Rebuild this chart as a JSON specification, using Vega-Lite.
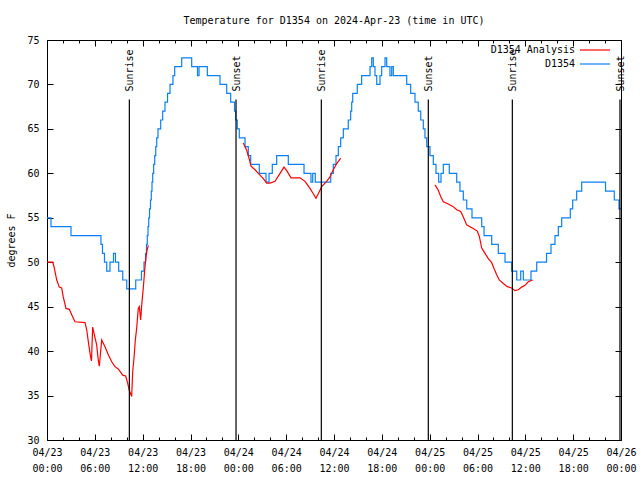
{
  "$schema": "https://vega.github.io/schema/vega-lite/v6.json",
  "width": 574,
  "height": 400,
  "autosize": "none",
  "padding": {"left": 47, "top": 40, "right": 19, "bottom": 40},
  "background": "white",
  "title": {"text": "Temperature for D1354 on 2024-Apr-23 (time in UTC)", "font": "DejaVu Sans Mono", "fontSize": 10, "fontWeight": "normal", "color": "black", "anchor": "middle", "offset": 9},
  "config": {
    "view": {"stroke": "black", "strokeWidth": 1},
    "font": "DejaVu Sans Mono",
    "axis": {"grid": false, "domain": false, "labelFont": "DejaVu Sans Mono", "labelFontSize": 10, "labelColor": "black", "tickColor": "black", "tickWidth": 1, "titleFont": "DejaVu Sans Mono", "titleFontSize": 10, "titleFontWeight": "normal", "titleColor": "black"},
    "legend": {"orient": "none", "legendX": 542, "legendY": 4, "padding": 0, "symbolType": "M-3,0H3", "symbolSize": 100, "symbolStrokeWidth": 1.2, "labelAlign": "right", "labelOffset": -26, "labelFont": "DejaVu Sans Mono", "labelFontSize": 10, "labelColor": "black", "rowPadding": 3, "title": null}
  },
  "datasets": {
    "obs": [
      {"h":0,"t":55},{"h":0.5,"t":54},{"h":3.01,"t":53},{"h":6.77,"t":52},{"h":6.96,"t":51},{"h":7.21,"t":50},{"h":7.49,"t":49},{"h":7.9,"t":50},{"h":8.34,"t":51},{"h":8.59,"t":50},{"h":8.99,"t":49},{"h":9.5,"t":48},{"h":10.0,"t":47},{"h":11.13,"t":48},{"h":11.85,"t":49},{"h":12.17,"t":50},{"h":12.36,"t":51},{"h":12.48,"t":52},{"h":12.58,"t":53},{"h":12.67,"t":54},{"h":12.76,"t":55},{"h":12.86,"t":56},{"h":12.98,"t":57},{"h":13.08,"t":58},{"h":13.17,"t":59},{"h":13.26,"t":60},{"h":13.38,"t":61},{"h":13.51,"t":62},{"h":13.64,"t":63},{"h":13.76,"t":64},{"h":13.92,"t":65},{"h":14.26,"t":66},{"h":14.51,"t":67},{"h":14.8,"t":68},{"h":15.12,"t":69},{"h":15.43,"t":70},{"h":15.8,"t":71},{"h":16.02,"t":72},{"h":16.9,"t":73},{"h":18.15,"t":72},{"h":18.88,"t":71},{"h":19.07,"t":72},{"h":20.11,"t":71},{"h":21.7,"t":70},{"h":22.54,"t":69},{"h":23.04,"t":68},{"h":23.52,"t":67},{"h":23.67,"t":66},{"h":23.87,"t":65},{"h":24.12,"t":64},{"h":24.84,"t":63},{"h":25.25,"t":62},{"h":25.55,"t":61},{"h":26.63,"t":60},{"h":27.47,"t":59},{"h":27.85,"t":60},{"h":28.26,"t":61},{"h":28.81,"t":62},{"h":30.27,"t":61},{"h":32.24,"t":60},{"h":33.11,"t":59},{"h":33.33,"t":60},{"h":33.65,"t":59},{"h":35.59,"t":60},{"h":35.91,"t":61},{"h":36.25,"t":62},{"h":36.54,"t":63},{"h":36.84,"t":64},{"h":37.17,"t":65},{"h":37.79,"t":66},{"h":38.09,"t":67},{"h":38.22,"t":68},{"h":38.35,"t":69},{"h":38.92,"t":70},{"h":39.47,"t":71},{"h":40.52,"t":72},{"h":40.73,"t":73},{"h":40.93,"t":72},{"h":41.14,"t":71},{"h":41.36,"t":70},{"h":41.77,"t":71},{"h":41.98,"t":72},{"h":42.4,"t":73},{"h":42.61,"t":72},{"h":43.02,"t":71},{"h":43.24,"t":72},{"h":43.44,"t":71},{"h":45.12,"t":70},{"h":45.62,"t":69},{"h":46.16,"t":68},{"h":46.57,"t":67},{"h":46.88,"t":66},{"h":47.2,"t":65},{"h":47.41,"t":64},{"h":47.63,"t":63},{"h":48.04,"t":62},{"h":48.46,"t":61},{"h":48.79,"t":60},{"h":49.13,"t":59},{"h":49.42,"t":60},{"h":49.71,"t":61},{"h":50.46,"t":60},{"h":51.39,"t":59},{"h":51.8,"t":58},{"h":52.22,"t":57},{"h":52.65,"t":56},{"h":53.31,"t":55},{"h":54.53,"t":54},{"h":54.82,"t":53},{"h":55.78,"t":52},{"h":56.61,"t":51},{"h":57.45,"t":50},{"h":58.29,"t":49},{"h":58.92,"t":48},{"h":59.42,"t":49},{"h":59.75,"t":48},{"h":60.71,"t":49},{"h":61.43,"t":50},{"h":62.66,"t":51},{"h":63.22,"t":52},{"h":63.72,"t":53},{"h":64.14,"t":54},{"h":64.56,"t":55},{"h":65.64,"t":56},{"h":65.94,"t":57},{"h":66.44,"t":58},{"h":67.07,"t":59},{"h":70.06,"t":58},{"h":71.16,"t":57},{"h":71.75,"t":56},{"h":72.0,"t":56}
    ],
    "ana": [
      {"h":0,"t":50,"seg":1},{"h":0.72,"t":50,"seg":1},{"h":0.88,"t":49.5,"seg":1},{"h":1.22,"t":48,"seg":1},{"h":1.54,"t":47.2,"seg":1},{"h":1.84,"t":47.1,"seg":1},{"h":2.04,"t":46.1,"seg":1},{"h":2.38,"t":44.8,"seg":1},{"h":2.8,"t":44.7,"seg":1},{"h":3.1,"t":44.1,"seg":1},{"h":3.51,"t":43.3,"seg":1},{"h":4.77,"t":43.2,"seg":1},{"h":4.98,"t":42.4,"seg":1},{"h":5.27,"t":40.5,"seg":1},{"h":5.48,"t":39.3,"seg":1},{"h":5.58,"t":38.9,"seg":1},{"h":5.73,"t":42.7,"seg":1},{"h":5.9,"t":42.0,"seg":1},{"h":6.23,"t":40.7,"seg":1},{"h":6.43,"t":39.0,"seg":1},{"h":6.56,"t":38.3,"seg":1},{"h":6.86,"t":41.25,"seg":1},{"h":7.28,"t":40.5,"seg":1},{"h":7.69,"t":39.6,"seg":1},{"h":8.12,"t":38.8,"seg":1},{"h":8.53,"t":38.25,"seg":1},{"h":8.94,"t":38.0,"seg":1},{"h":9.5,"t":37.3,"seg":1},{"h":9.87,"t":37.2,"seg":1},{"h":10.12,"t":36.4,"seg":1},{"h":10.32,"t":35.6,"seg":1},{"h":10.62,"t":34.9,"seg":1},{"h":10.75,"t":37.7,"seg":1},{"h":10.91,"t":39.2,"seg":1},{"h":11.08,"t":41.25,"seg":1},{"h":11.25,"t":42.6,"seg":1},{"h":11.45,"t":44.8,"seg":1},{"h":11.58,"t":45.0,"seg":1},{"h":11.75,"t":43.5,"seg":1},{"h":11.88,"t":45.2,"seg":1},{"h":12.08,"t":47.1,"seg":1},{"h":12.29,"t":49.5,"seg":1},{"h":12.51,"t":51.2,"seg":1},{"h":12.71,"t":51.9,"seg":1},
      {"h":24.62,"t":63.4,"seg":2},{"h":25.05,"t":62.6,"seg":2},{"h":25.34,"t":61.7,"seg":2},{"h":25.59,"t":60.8,"seg":2},{"h":26.09,"t":60.4,"seg":2},{"h":26.72,"t":59.8,"seg":2},{"h":27.13,"t":59.4,"seg":2},{"h":27.56,"t":58.9,"seg":2},{"h":27.97,"t":58.9,"seg":2},{"h":28.6,"t":59.1,"seg":2},{"h":29.23,"t":60.0,"seg":2},{"h":29.73,"t":60.7,"seg":2},{"h":30.07,"t":60.3,"seg":2},{"h":30.61,"t":59.5,"seg":2},{"h":31.74,"t":59.5,"seg":2},{"h":32.36,"t":59.1,"seg":2},{"h":32.99,"t":58.3,"seg":2},{"h":33.4,"t":57.7,"seg":2},{"h":33.74,"t":57.2,"seg":2},{"h":34.03,"t":57.7,"seg":2},{"h":34.46,"t":58.5,"seg":2},{"h":35.08,"t":59.1,"seg":2},{"h":35.5,"t":59.6,"seg":2},{"h":35.91,"t":60.4,"seg":2},{"h":36.34,"t":61.1,"seg":2},{"h":36.84,"t":61.7,"seg":2},
      {"h":48.67,"t":58.7,"seg":3},{"h":49.08,"t":58.1,"seg":3},{"h":49.38,"t":57.4,"seg":3},{"h":49.71,"t":56.8,"seg":3},{"h":50.34,"t":56.55,"seg":3},{"h":50.96,"t":56.25,"seg":3},{"h":51.39,"t":55.9,"seg":3},{"h":51.89,"t":55.7,"seg":3},{"h":52.22,"t":55.1,"seg":3},{"h":52.65,"t":54.2,"seg":3},{"h":53.06,"t":54.0,"seg":3},{"h":53.47,"t":53.8,"seg":3},{"h":53.97,"t":53.5,"seg":3},{"h":54.23,"t":52.9,"seg":3},{"h":54.53,"t":51.6,"seg":3},{"h":54.94,"t":51.0,"seg":3},{"h":55.36,"t":50.4,"seg":3},{"h":55.78,"t":49.95,"seg":3},{"h":56.07,"t":49.3,"seg":3},{"h":56.41,"t":48.6,"seg":3},{"h":56.73,"t":48.0,"seg":3},{"h":57.24,"t":47.6,"seg":3},{"h":57.74,"t":47.25,"seg":3},{"h":58.29,"t":47.1,"seg":3},{"h":58.7,"t":46.8,"seg":3},{"h":59.12,"t":46.9,"seg":3},{"h":59.54,"t":47.2,"seg":3},{"h":59.96,"t":47.4,"seg":3},{"h":60.37,"t":47.8,"seg":3},{"h":60.92,"t":48.0,"seg":3}
    ],
    "sun": [
      {"h":10.33,"event":"Sunrise"},{"h":23.71,"event":"Sunset"},{"h":34.41,"event":"Sunrise"},{"h":47.83,"event":"Sunset"},{"h":58.37,"event":"Sunrise"},{"h":71.87,"event":"Sunset"}
    ]
  },
  "layer": [
    {
      "data": {"name": "obs"},
      "mark": {"type": "line", "interpolate": "step-after", "strokeWidth": 1.2},
      "encoding": {
        "x": {"field": "h", "type": "quantitative", "scale": {"domain": [0, 72], "nice": false, "zero": false},
              "axis": {"orient": "bottom", "title": null, "values": [0,6,12,18,24,30,36,42,48,54,60,66,72], "tickSize": -6, "labelPadding": 13, "labelLineHeight": 16, "labelFlush": false,
                       "labelExpr": "['04/' + (23 + floor(datum.value / 24)), (datum.value % 24 < 10 ? '0' : '') + (datum.value % 24) + ':00']"}},
        "y": {"field": "t", "type": "quantitative", "scale": {"domain": [30, 75], "nice": false, "zero": false},
              "axis": {"orient": "left", "title": "degrees F", "values": [30,35,40,45,50,55,60,65,70,75], "tickSize": -6, "labelPadding": 14, "titlePadding": 10}},
        "color": {"datum": "D1354", "type": "nominal", "scale": {"domain": ["D1354 Analysis", "D1354"], "range": ["#ff0000", "#0a80f5"]}}
      }
    },
    {
      "data": {"name": "ana"},
      "mark": {"type": "line", "strokeWidth": 1.2},
      "encoding": {
        "x": {"field": "h", "type": "quantitative",
              "axis": {"orient": "bottom", "title": null, "values": [2,4,8,10,14,16,20,22,26,28,32,34,38,40,44,46,50,52,56,58,62,64,68,70], "tickSize": -3, "labels": false}},
        "y": {"field": "t", "type": "quantitative",
              "axis": {"orient": "right", "title": null, "values": [30,35,40,45,50,55,60,65,70,75], "tickSize": -6, "labels": false}},
        "detail": {"field": "seg", "type": "nominal"},
        "color": {"datum": "D1354 Analysis", "type": "nominal"}
      }
    },
    {
      "data": {"name": "sun"},
      "mark": {"type": "rule", "color": "black", "strokeWidth": 1.2},
      "encoding": {
        "x": {"field": "h", "type": "quantitative",
              "axis": {"orient": "top", "title": null, "values": [0,6,12,18,24,30,36,42,48,54,60,66,72], "tickSize": -6, "labels": false}},
        "y": {"datum": 68.3, "type": "quantitative", "axis": null},
        "y2": {"datum": 30}
      }
    },
    {
      "data": {"name": "sun"},
      "mark": {"type": "text", "angle": 270, "align": "left", "baseline": "middle", "font": "DejaVu Sans Mono", "fontSize": 10, "color": "black", "dy": 1},
      "encoding": {
        "x": {"field": "h", "type": "quantitative",
              "axis": {"orient": "top", "title": null, "values": [2,4,8,10,14,16,20,22,26,28,32,34,38,40,44,46,50,52,56,58,62,64,68,70], "tickSize": -3, "labels": false}},
        "y": {"datum": 69.2, "type": "quantitative", "axis": null},
        "text": {"field": "event"}
      }
    }
  ],
  "resolve": {"axis": {"x": "independent", "y": "independent"}}
}
